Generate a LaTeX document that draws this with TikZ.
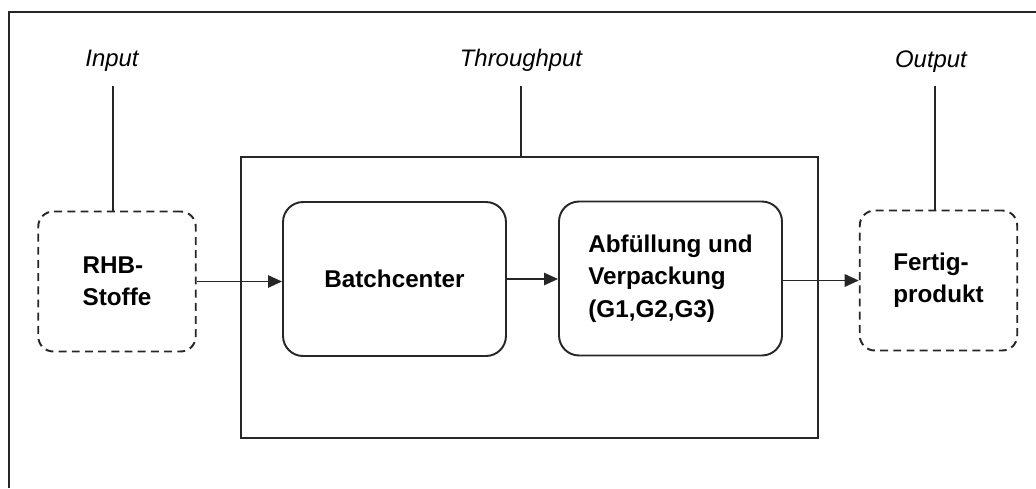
\documentclass[tikz,border=0pt]{standalone}
\usepackage{fontspec}
\setmainfont{Liberation Sans}
\usetikzlibrary{arrows.meta}
\begin{document}
\begin{tikzpicture}[x=0.02cm,y=-0.02cm,
  line/.style={draw=black!85,line width=1.1pt},
  arr/.style={line,-{Triangle[length=8pt,width=7pt]}},
  proc/.style={line,rounded corners=0.4cm,inner sep=0pt,minimum width=4.46cm,minimum height=3.08cm,align=left,font=\bfseries\fontsize{13.8}{18.6}\selectfont},
  ext/.style={line,dash pattern=on 4.5pt off 3pt,rounded corners=0.3cm,inner sep=0pt,minimum width=3.15cm,minimum height=2.8cm,align=left,font=\bfseries\fontsize{13.8}{18.2}\selectfont},
  lbl/.style={font=\itshape\fontsize{13.6}{16}\selectfont,inner sep=0pt}]
\useasboundingbox (0,0) rectangle (1036,488);
% outer frame (cut off at right and bottom)
\draw[line,line width=1.3pt] (9,488) -- (9,12) -- (1036,12);
% throughput frame
\node[line,inner sep=0pt,minimum width=11.54cm,minimum height=5.62cm] (tp) at (529.5,297.5) {};
% boxes
\node[ext] (rhb) at (117,281.5) {RHB-\\Stoffe};
\node[proc] (batch) at (394.5,279) {Batchcenter};
\node[proc] (abf) at (670.5,278.5) {Abfüllung und\\Verpackung\\(G1,G2,G3)};
\node[ext] (fert) at (938.5,280.5) {Fertig-\\produkt};
% labels
\node[lbl] (lin) at (112,61) {Input};
\node[lbl] (lthr) at (521,60) {Throughput};
\node[lbl] (lout) at (931,62) {Output};
\coordinate (cin) at (113,86);
\coordinate (cthr) at (521,86);
\coordinate (cout) at (935,86);
\draw[line] (cin) -- (cin |- rhb.north);
\draw[line] (cthr) -- (cthr |- tp.north);
\draw[line] (cout) -- (cout |- fert.north);
% arrows
\draw[arr] (rhb.east) -- (rhb.east -| batch.west);
\draw[arr] (batch.east) -- (batch.east -| abf.west);
\draw[arr] (abf.east |- fert.west) -- (fert.west);
\end{tikzpicture}
\end{document}
